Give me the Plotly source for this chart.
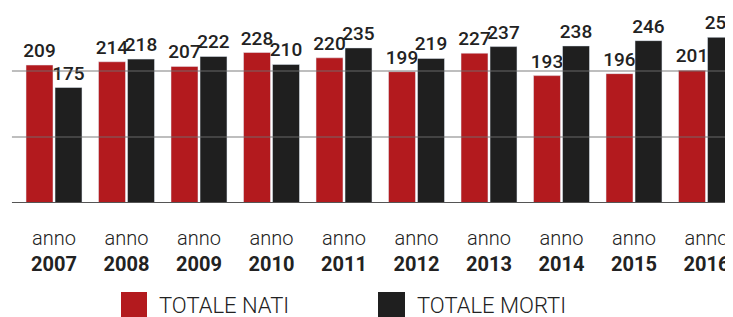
import plotly.graph_objects as go

years = ["2007", "2008", "2009", "2010", "2011", "2012", "2013", "2014", "2015", "2016"]
nati = [209, 214, 207, 228, 220, 199, 227, 193, 196, 201]
morti = [175, 218, 222, 210, 235, 219, 237, 238, 246, 251]
gridlines = [100, 200]
series_names = ["TOTALE NATI", "TOTALE MORTI"]

RED = "#B31A1E"
BLACK = "#1F1F1F"
TXT = "#222222"

OFF = 8  # page body margin
W, H = 733 - OFF, 317 - OFF
BASE = 203 - OFF
T = 0
B = H - BASE
PH = BASE - T
SCALE = 0.66
YMAX = PH / SCALE

fig = go.Figure()
x = list(range(len(years)))
for vals, name, col in [(nati, series_names[0], RED), (morti, series_names[1], BLACK)]:
    fig.add_trace(go.Bar(x=x, y=vals, name=name, marker_color=col,
                         text=[str(v) for v in vals], textposition="outside",
                         constraintext="none",
                         textfont=dict(family="Roboto", size=19, color=TXT, weight=500),
                         cliponaxis=False))

x0 = -0.58
x1 = 9.5
shapes = []
for g in gridlines:
    shapes.append(dict(type="line", xref="x", yref="y", x0=x0, x1=x1, y0=g, y1=g,
                       line=dict(color="rgba(110,110,110,0.45)", width=2), layer="above"))
shapes.append(dict(type="line", xref="x", yref="y", x0=x0, x1=x1, y0=0, y1=0,
                   line=dict(color="#555555", width=2), layer="above"))

def py(p):
    return (BASE - (p - OFF)) / PH

def px(p):
    return (p - OFF) / W

shapes.append(dict(type="rect", xref="paper", yref="paper", x0=px(121), x1=px(147),
                   y0=py(320), y1=py(292), fillcolor=RED, line=dict(width=0)))
shapes.append(dict(type="rect", xref="paper", yref="paper", x0=px(378), x1=px(405),
                   y0=py(320), y1=py(292), fillcolor=BLACK, line=dict(width=0)))
annotations = [
    dict(text=series_names[0], xref="paper", yref="paper", x=px(157), y=py(305),
         xanchor="left", yanchor="middle", showarrow=False,
         font=dict(family="Roboto", size=22, color=TXT, weight=300)),
    dict(text=series_names[1], xref="paper", yref="paper", x=px(415), y=py(305),
         xanchor="left", yanchor="middle", showarrow=False,
         font=dict(family="Roboto", size=22, color=TXT, weight=300)),
]

c0 = 54 - OFF
unit = 72.5
fig.update_layout(
    width=W, height=H,
    margin=dict(l=0, r=0, t=T, b=B, autoexpand=False),
    paper_bgcolor="white", plot_bgcolor="white",
    barmode="group", bargap=0.2, bargroupgap=0.07,
    showlegend=False,
    shapes=shapes, annotations=annotations,
    xaxis=dict(range=[-c0 / unit, (W - c0) / unit], tickmode="array", tickvals=x,
               ticktext=[f"anno<br><b>{y}</b>" for y in years],
               tickfont=dict(family="Roboto", size=20, color=TXT, weight=300),
               ticks="outside", ticklen=17, tickcolor="rgba(0,0,0,0)",
               showgrid=False, zeroline=False, showline=False),
    yaxis=dict(range=[0, YMAX], showgrid=False, zeroline=False, showticklabels=False,
               showline=False),
)

fig.write_html("out.html")
